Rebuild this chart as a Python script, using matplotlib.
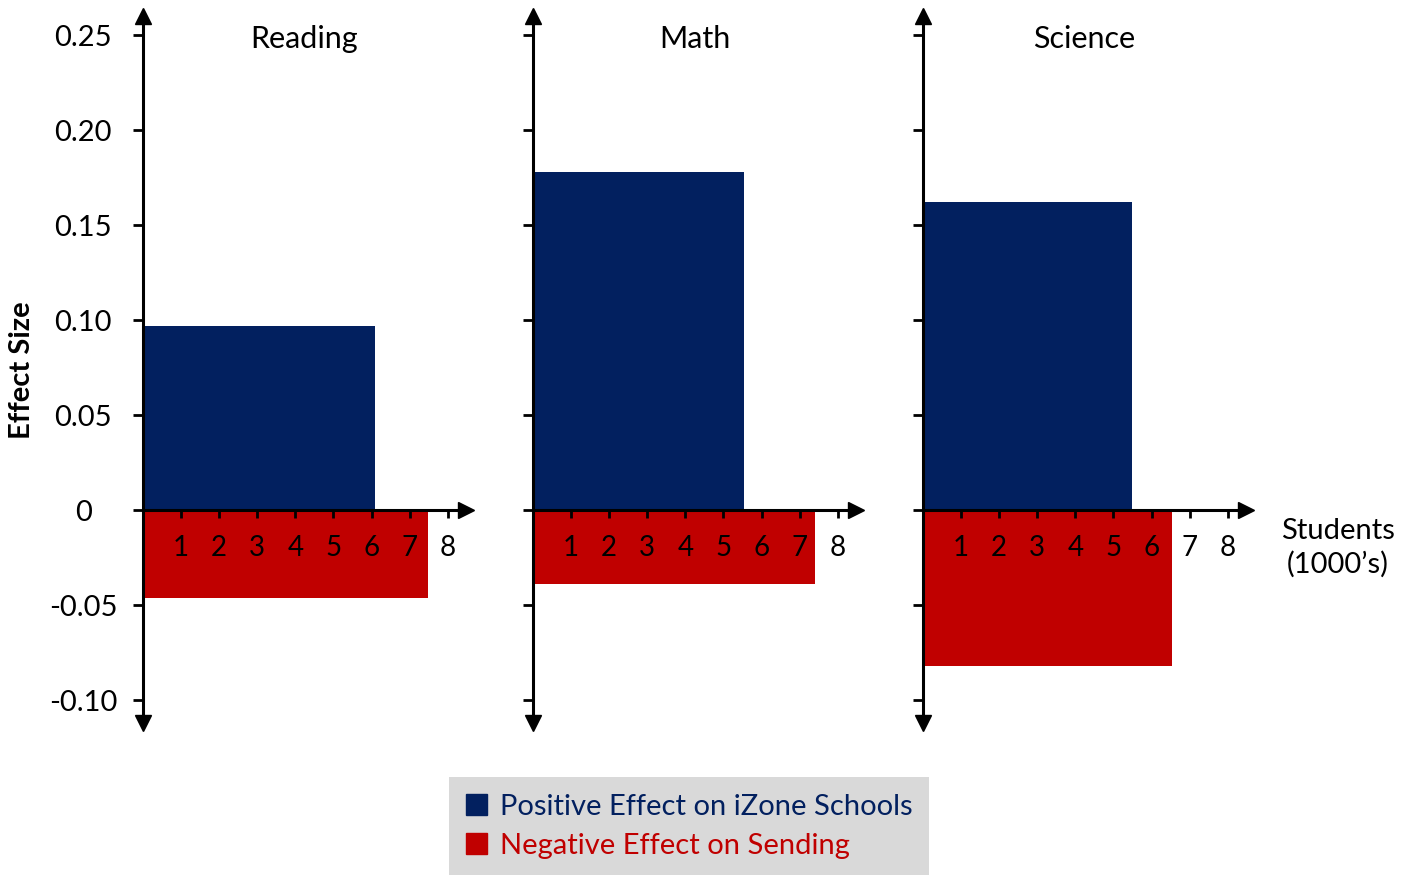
import matplotlib
matplotlib.use('Agg')
import matplotlib.pyplot as plt
from matplotlib.patches import Patch

plt.rcParams['font.family'] = ['Lato', 'DejaVu Sans']

subjects = ['Reading', 'Math', 'Science']
pos_width = [6.1, 5.54, 5.48]        # thousands of students in iZone schools
pos_effect = [0.097, 0.178, 0.162]
neg_width = [7.48, 7.4, 6.55]        # thousands of students in sending schools
neg_effect = [-0.046, -0.039, -0.082]

y_ticks = [-0.10, -0.05, 0, 0.05, 0.10, 0.15, 0.20, 0.25]
y_labels = ['-0.10', '-0.05', '0', '0.05', '0.10', '0.15', '0.20', '0.25']
x_ticks = [1, 2, 3, 4, 5, 6, 7, 8]

blue = '#02205F'
red = '#C00000'
W, H = 1414, 875

fig = plt.figure(figsize=(W / 100, H / 100), dpi=100)

for i, name in enumerate(subjects):
    x0 = 143 + i * 390
    ax = fig.add_axes([x0 / W, 1 - 723 / H, 323 / W, (723 - 16) / H])
    ax.set_xlim(0, 8.48)
    ax.set_ylim(-0.112, 0.26)
    ax.set_facecolor('none')

    ax.bar(0, pos_effect[i], width=pos_width[i], align='edge', color=blue, zorder=1)
    ax.bar(0, neg_effect[i], width=neg_width[i], align='edge', color=red, zorder=1)

    for s in ['top', 'right']:
        ax.spines[s].set_visible(False)
    ax.spines['left'].set_position(('data', 0))
    ax.spines['bottom'].set_position(('data', 0))
    ax.spines['left'].set_linewidth(2.2)
    ax.spines['bottom'].set_linewidth(2.2)

    # arrow heads
    ax.plot(0, 1, '^k', ms=11, transform=ax.get_xaxis_transform(), clip_on=False)
    ax.plot(0, 0, 'vk', ms=11, transform=ax.get_xaxis_transform(), clip_on=False)
    ax.plot(1, 0, '>k', ms=11, transform=ax.get_yaxis_transform(), clip_on=False)

    ax.set_xticks(x_ticks)
    ax.set_xticklabels([str(t) for t in x_ticks])
    ax.tick_params(axis='x', direction='out', length=6, width=2, pad=12, labelsize=20)
    ax.set_yticks(y_ticks)
    if i == 0:
        ax.set_yticklabels(y_labels)
        for lab in ax.get_yticklabels():
            lab.set_horizontalalignment('center')
            lab.set_verticalalignment('center_baseline')
        ax.tick_params(axis='y', direction='out', length=7, width=2, pad=36, labelsize=21)
    else:
        ax.set_yticklabels([])
        ax.tick_params(axis='y', direction='out', length=7, width=2)

    ax.text(0.5, 0.248, name, transform=ax.get_yaxis_transform(),
            ha='center', va='center', fontsize=22)

fig.text(22 / W, 1 - 370 / H, 'Effect Size', rotation=90, ha='center', va='center',
         fontsize=21, fontweight='bold')
fig.text(1338 / W, 1 - 548 / H, 'Students\n(1000\u2019s)', ha='center', va='center',
         fontsize=21, linespacing=1.3)

handles = [Patch(color=blue), Patch(color=red)]
leg = fig.legend(handles, ['Positive Effect on iZone Schools', 'Negative Effect on Sending'],
                 loc='lower center', bbox_to_anchor=(689 / W, 0), bbox_transform=fig.transFigure,
                 frameon=True, fancybox=False, facecolor='#D9D9D9', edgecolor='none',
                 framealpha=1, fontsize=21, handlelength=0.72, handleheight=0.72,
                 handletextpad=0.45, labelspacing=0.45, borderpad=0.56, borderaxespad=0)
for txt, c in zip(leg.get_texts(), [blue, red]):
    txt.set_color(c)

fig.savefig('out.png', dpi=100)
